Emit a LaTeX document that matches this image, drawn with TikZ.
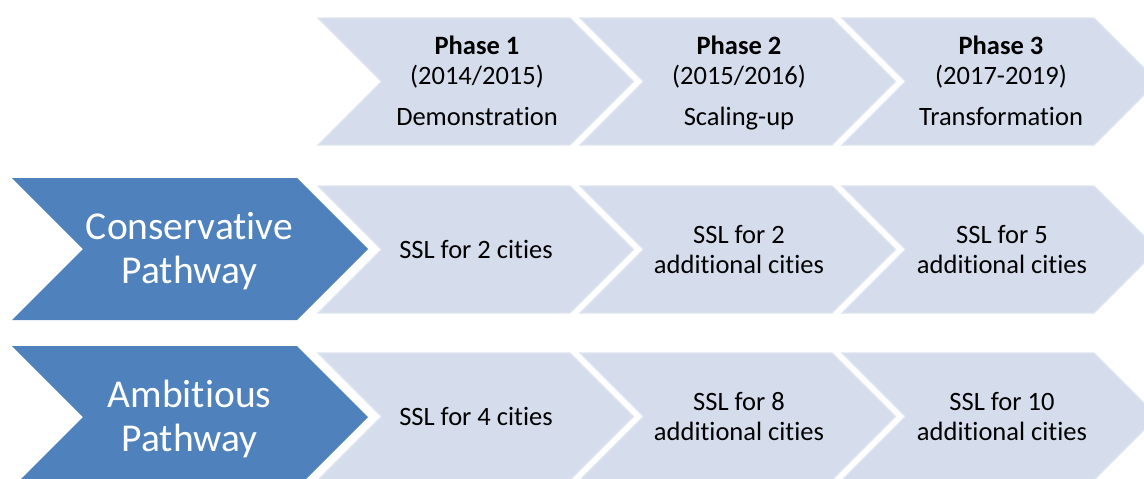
\documentclass[tikz,border=0pt]{standalone}
\usepackage{fontspec}
\setmainfont{Carlito}[Ligatures={NoCommon}]
\definecolor{phasefill}{HTML}{D5DCEB}
\definecolor{phaseedge}{HTML}{DEE4F0}
\definecolor{pathblue}{HTML}{4F81BD}
% chevron: #1 left x, #2 top y, #3 body width, #4 height, #5 style
\newcommand{\drawchevron}[5]{%
  \path[#5] (#1,#2) -- ++(#3,0) -- ++(#4/2,#4/2) -- ++(-#4/2,#4/2)
    -- ++(-#3,0) -- ++(#4/2,-#4/2) -- cycle;}
\begin{document}
\begin{tikzpicture}[x=1pt,y=-1pt,
  phase/.style={fill=phasefill,draw=phaseedge,line width=1.2pt},
  pathway/.style={fill=pathblue},
  lbl/.style={align=center,inner sep=0pt,text=black,yshift=-2.5pt,
    font=\fontsize{26.5}{30}\selectfont},
  plbl/.style={align=center,inner sep=0pt,text=white,yshift=-3.5pt,
    font=\fontsize{39.5}{44}\selectfont}]
\useasboundingbox (0,0) rectangle (1144,479);
\clip (0,0) rectangle (1144,479);

% phase header row
\drawchevron{318}{18}{252}{127}{phase}
\drawchevron{580}{18}{252}{127}{phase}
\drawchevron{842}{18}{252}{127}{phase}
\node[lbl] (ph1) at (477,81.5) {\strut\textbf{Phase 1}\\\strut(2014/2015)\\[11pt]\strut Demonstration};
\node[lbl] (ph2) at (739,81.5) {\strut\textbf{Phase 2}\\\strut(2015/2016)\\[11pt]\strut Scaling-up};
\node[lbl] (ph3) at (1001,81.5) {\strut\textbf{Phase 3}\\\strut(2017-2019)\\[11pt]\strut Transformation};

% conservative pathway row
\drawchevron{12}{178}{285}{142}{pathway}
\drawchevron{318}{186}{252}{127}{phase}
\drawchevron{580}{186}{252}{127}{phase}
\drawchevron{842}{186}{252}{127}{phase}
\node[plbl] (cons) at (189.5,249) {\strut Conservative\\\strut Pathway};
\node[lbl] (c1) at (476,249.5) {\strut SSL for 2 cities};
\node[lbl] (c2) at (739,249.5) {\strut SSL for 2\\\strut additional cities};
\node[lbl] (c3) at (1002,249.5) {\strut SSL for 5\\\strut additional cities};

% ambitious pathway row
\drawchevron{12}{346}{285}{142}{pathway}
\drawchevron{318}{353}{252}{127}{phase}
\drawchevron{580}{353}{252}{127}{phase}
\drawchevron{842}{353}{252}{127}{phase}
\node[plbl] (amb) at (189.5,417) {\strut Ambitious\\\strut Pathway};
\node[lbl] (a1) at (476,416.5) {\strut SSL for 4 cities};
\node[lbl] (a2) at (739,416.5) {\strut SSL for 8\\\strut additional cities};
\node[lbl] (a3) at (1002,416.5) {\strut SSL for 10\\\strut additional cities};
\end{tikzpicture}
\end{document}
